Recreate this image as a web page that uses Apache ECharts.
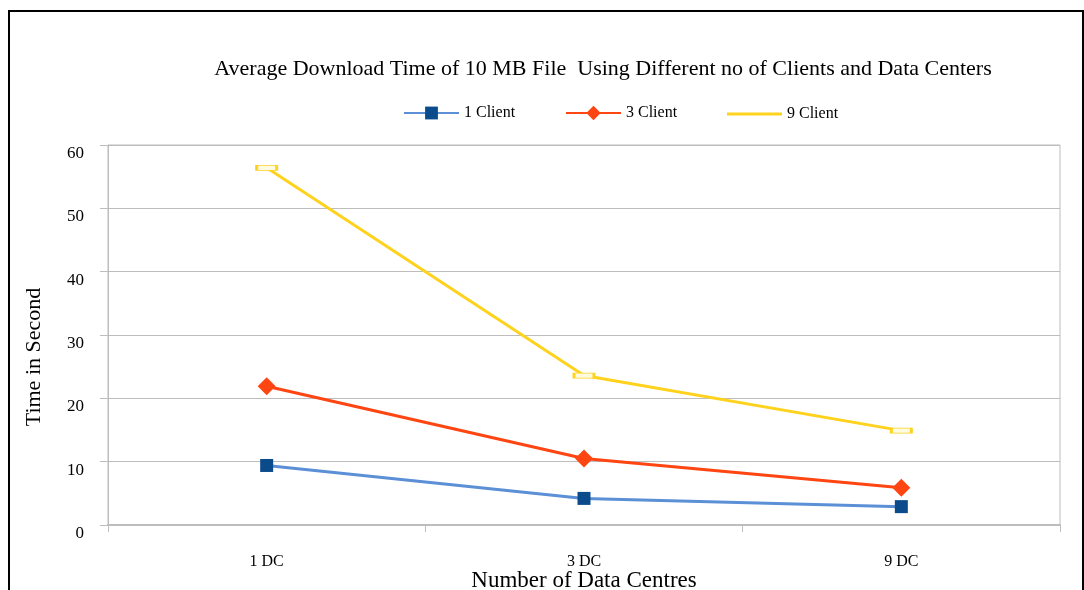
<!DOCTYPE html>
<html>
<head>
<meta charset="utf-8">
<script src="https://cdn.jsdelivr.net/npm/echarts@6/dist/echarts.min.js"></script>
<style>
html,body{margin:0;padding:0;background:#fff;}
#chart{width:1084px;height:590px;}
</style>
</head>
<body>
<div id="chart"></div>
<script>
const categories = ['1 DC', '3 DC', '9 DC'];
const client1 = [9.4, 4.2, 2.9];
const client3 = [21.9, 10.5, 5.9];
const client9 = [56.4, 23.6, 14.9];
const seriesNames = ['1 Client', '3 Client', '9 Client'];
const yTicks = { min: 0, max: 60, interval: 10 };

const serif = '"Liberation Serif", "DejaVu Serif", serif';
const chart = echarts.init(document.getElementById('chart'), null, { renderer: 'canvas' });

const legendBase = {
  top: 105,
  padding: 0,
  itemWidth: 55,
  itemHeight: 16,
  textStyle: { fontFamily: serif, fontSize: 16, color: '#000' },
  selectedMode: false
};

chart.setOption({
  animation: false,
  backgroundColor: '#fff',
  title: {
    text: 'Average Download Time of 10 MB File  Using Different no of Clients and Data Centers',
    left: 598, textAlign: 'center', top: 53,
    textStyle: { fontFamily: serif, fontSize: 22, fontWeight: 'normal', color: '#000' }
  },
  legend: [
    Object.assign({}, legendBase, { left: 403, data: [seriesNames[0]] }),
    Object.assign({}, legendBase, { left: 565, top: 105, itemHeight: 18, data: [seriesNames[1]] }),
    Object.assign({}, legendBase, { left: 727, top: 106, itemHeight: 3, data: [{ name: seriesNames[2], icon: 'rect', itemStyle: { color: '#ffd21e', borderWidth: 0 } }] })
  ],
  grid: { left: 108, top: 145, right: 24, bottom: 65, show: true, borderColor: '#bdbdbd', borderWidth: 1, containLabel: false, outerBoundsMode: 'none' },
  xAxis: {
    type: 'category',
    data: categories,
    boundaryGap: true,
    name: 'Number of Data Centres',
    nameLocation: 'middle',
    nameGap: 44,
    nameMoveOverlap: false,
    nameTextStyle: { fontFamily: serif, fontSize: 23, color: '#000' },
    axisLine: { lineStyle: { color: '#bdbdbd', width: 2 } },
    axisTick: { show: true, length: 7, lineStyle: { color: '#bdbdbd' } },
    axisLabel: { fontFamily: serif, fontSize: 16, color: '#000', margin: 29 },
    splitLine: { show: false }
  },
  yAxis: {
    type: 'value',
    min: yTicks.min, max: yTicks.max, interval: yTicks.interval,
    name: 'Time in Second',
    nameLocation: 'middle',
    nameGap: 63,
    nameMoveOverlap: false,
    nameTextStyle: { fontFamily: serif, fontSize: 22, color: '#000', padding: [0, 44, 0, 0] },
    axisLine: { show: true, lineStyle: { color: '#bdbdbd' } },
    axisTick: { show: true, length: 8, lineStyle: { color: '#bdbdbd' } },
    axisLabel: { fontFamily: serif, fontSize: 17, color: '#000', margin: 24, verticalAlign: 'top' },
    splitLine: { show: true, lineStyle: { color: '#bdbdbd', width: 1 } }
  },
  graphic: [{
    type: 'rect',
    shape: { x: 9, y: 11, width: 1074, height: 620 },
    style: { fill: 'none', stroke: '#000', lineWidth: 2 },
    silent: true, z: 100
  }],
  series: [
    {
      name: seriesNames[0], type: 'line', data: client1,
      symbol: 'rect', symbolSize: 13,
      itemStyle: { color: '#0b4a8b' },
      lineStyle: { color: '#5b8fd6', width: 3 }
    },
    {
      name: seriesNames[1], type: 'line', data: client3,
      symbol: 'diamond', symbolSize: 18,
      itemStyle: { color: '#ff4612' },
      lineStyle: { color: '#ff4612', width: 3 }
    },
    {
      name: seriesNames[2], type: 'line', data: client9,
      symbol: 'rect', symbolSize: [20, 5],
      itemStyle: { color: '#fffbe0', borderColor: '#ffd21e', borderWidth: 1.5 },
      lineStyle: { color: '#ffd21e', width: 3 }
    }
  ]
});
</script>
</body>
</html>
